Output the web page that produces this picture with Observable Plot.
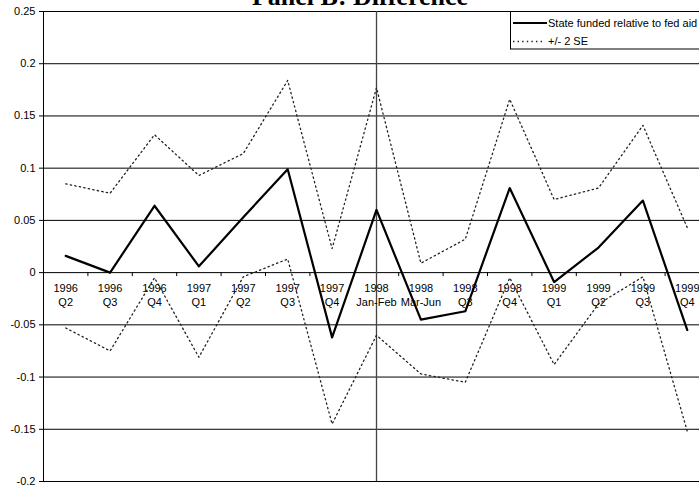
<!DOCTYPE html>
<html>
<head>
<meta charset="utf-8">
<script src="https://cdn.jsdelivr.net/npm/d3@7"></script>
<script src="https://cdn.jsdelivr.net/npm/@observablehq/plot@0.6"></script>
<style>
  html, body { margin: 0; padding: 0; background: #fff; overflow: hidden; width: 699px; height: 489px; }
  #chart { position: relative; width: 699px; height: 489px; overflow: hidden; }
  #chart svg { font-family: "Liberation Sans", Arial, sans-serif; max-width: none !important; }
  #legend { position: absolute; left: 0; top: 0; }
</style>
</head>
<body>
<div id="chart"></div>
<script>
// Survey periods (two-line tick labels)
const years   = ["1996","1996","1996","1997","1997","1997","1997","1998","1998","1998","1998","1999","1999","1999","1999"];
const periods = ["Q2","Q3","Q4","Q1","Q2","Q3","Q4","Jan-Feb","Mar-Jun","Q3","Q4","Q1","Q2","Q3","Q4"];

// Difference: state funded relative to federal aid, with +/- 2 SE bounds
const estimate = [0.016, 0.000, 0.064, 0.006, 0.053, 0.099, -0.062, 0.060, -0.045, -0.037, 0.081, -0.009, 0.024, 0.069, -0.055];
const upper    = [0.085, 0.076, 0.132, 0.093, 0.114, 0.184, 0.023, 0.177, 0.009, 0.032, 0.166, 0.070, 0.081, 0.141, 0.043];
const lower    = [-0.053, -0.075, -0.005, -0.081, -0.004, 0.013, -0.145, -0.060, -0.097, -0.105, -0.005, -0.088, -0.030, -0.004, -0.152];

const yTicks = [-0.2, -0.15, -0.1, -0.05, 0, 0.05, 0.1, 0.15, 0.2, 0.25];
const breakIndex = periods.indexOf("Jan-Feb");

const idx = years.map((_, i) => i);
const bounds = idx.slice(1).map(i => i - 0.5);

const plot = Plot.plot({
  width: 709,
  height: 489,
  marginLeft: 43,
  marginRight: 0,
  marginTop: 11,
  marginBottom: 8,
  style: { fontFamily: "Liberation Sans, Arial, sans-serif", fontSize: "11px", background: "#fff", maxWidth: "none" },
  x: { type: "linear", domain: [-0.5, idx.length - 0.5], axis: null },
  y: { domain: [-0.2, 0.25], axis: null },
  marks: [
    Plot.ruleY(yTicks, { stroke: "#000", strokeWidth: 1 }),
    Plot.ruleX([-0.5], { stroke: "#000", strokeWidth: 1 }),
    Plot.ruleX([breakIndex], { stroke: "#444", strokeWidth: 1.3 }),
    Plot.axisY({ ticks: yTicks, tickFormat: d => String(d), tickSize: 4, tickPadding: 4, fontSize: 11, stroke: "#000" }),
    Plot.ruleX(bounds, { x: d => d, y1: 0, y2: -0.0038, stroke: "#000" }),
    Plot.text(idx, { x: i => i, y: 0, text: i => years[i], dy: 16, fontSize: 11, fill: "#000" }),
    Plot.text(idx, { x: i => i, y: 0, text: i => periods[i], dy: 30, fontSize: 11, fill: "#000" }),
    Plot.line(idx, { x: i => i, y: i => upper[i], stroke: "#222", strokeWidth: 1.3, strokeDasharray: "1.4,3.2" }),
    Plot.line(idx, { x: i => i, y: i => lower[i], stroke: "#222", strokeWidth: 1.3, strokeDasharray: "1.4,3.2" }),
    Plot.line(idx, { x: i => i, y: i => estimate[i], stroke: "#000", strokeWidth: 2.2 })
  ]
});

const chart = document.getElementById("chart");
chart.appendChild(plot);

// Panel title
d3.select(plot).append("text")
  .attr("x", 360).attr("y", 5)
  .attr("text-anchor", "middle")
  .attr("font-family", "Liberation Serif, Times New Roman, serif")
  .attr("font-weight", "bold")
  .attr("font-size", 26)
  .attr("fill", "#000")
  .text("Panel B: Difference");

// Legend box in the upper right
const legend = d3.select(chart).append("svg")
  .attr("id", "legend")
  .attr("width", 699).attr("height", 60)
  .style("font-family", "Liberation Sans, Arial, sans-serif");
legend.append("rect")
  .attr("x", 510.5).attr("y", 11.5).attr("width", 220).attr("height", 37.5)
  .attr("fill", "#fff").attr("stroke", "#000");
const entries = [
  { label: "State funded relative to fed aid", y: 23, width: 2.2, dash: null, color: "#000" },
  { label: "+/- 2 SE", y: 41.5, width: 1.3, dash: "1.4,3.2", color: "#222" }
];
entries.forEach(e => {
  legend.append("line")
    .attr("x1", 513).attr("x2", e.dash ? 545 : 547).attr("y1", e.y).attr("y2", e.y)
    .attr("stroke", e.color).attr("stroke-width", e.width)
    .attr("stroke-dasharray", e.dash);
  legend.append("text")
    .attr("x", 548).attr("y", e.y).attr("dy", "0.35em")
    .attr("font-size", 11).attr("fill", "#000")
    .text(e.label);
});
</script>
</body>
</html>
